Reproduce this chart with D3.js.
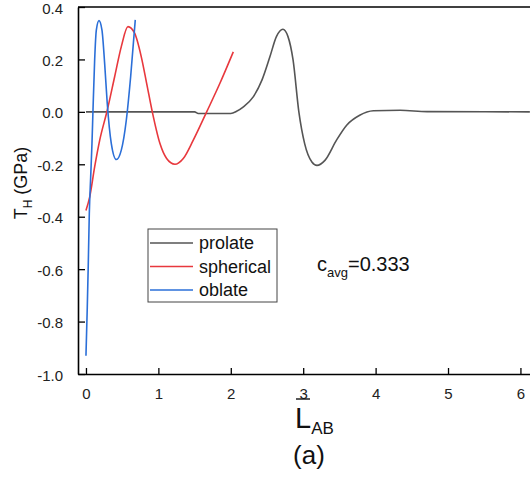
<!DOCTYPE html>
<html>
<head>
<meta charset="utf-8">
<script src="https://cdn.jsdelivr.net/npm/d3@7"></script>
<style>
  body { margin: 0; background: #fff; }
  svg { display: block; font-family: "Liberation Sans", Arial, sans-serif; }
</style>
</head>
<body>
<svg id="chart" width="530" height="478"></svg>
<script>
// values: [L_AB, T_H]
const prolateX = [0, 1.0, 1.5, 1.55, 2.0, 2.08, 2.17, 2.31, 2.43, 2.54, 2.63, 2.72, 2.79, 2.86, 2.94, 3.02, 3.12, 3.19, 3.30, 3.46, 3.60, 3.78, 3.97, 4.34, 4.71, 6.13];
const prolateY = [0, 0, 0, -0.006, -0.006, 0.002, 0.018, 0.057, 0.121, 0.21, 0.287, 0.315, 0.287, 0.198, 0, -0.121, -0.191, -0.204, -0.185, -0.108, -0.051, -0.013, 0.004, 0.006, 0.001, 0];

const sphericalX = [0, 0.051, 0.12, 0.19, 0.294, 0.396, 0.488, 0.58, 0.672, 0.764, 0.838, 0.916, 1.022, 1.114, 1.229, 1.344, 1.482, 1.667, 1.85, 2.035];
const sphericalY = [-0.376, -0.325, -0.21, -0.108, 0.006, 0.134, 0.249, 0.325, 0.30, 0.21, 0.109, 0, -0.121, -0.178, -0.2, -0.178, -0.108, 0, 0.109, 0.229];

const oblateX = [0, 0.018, 0.032, 0.046, 0.065, 0.083, 0.097, 0.12, 0.143, 0.18, 0.221, 0.258, 0.294, 0.35, 0.419, 0.488, 0.557, 0.617, 0.681];
const oblateY = [-0.93, -0.746, -0.58, -0.389, -0.249, -0.121, 0.006, 0.198, 0.312, 0.348, 0.312, 0.185, 0.032, -0.121, -0.182, -0.146, -0.032, 0.134, 0.351];

const seriesNames = ["prolate", "spherical", "oblate"];
const seriesColors = ["#555555", "#e8383d", "#2b6fd8"];

const xTicks = [0, 1, 2, 3, 4, 5, 6];
const yTicks = [-1.0, -0.8, -0.6, -0.4, -0.2, 0.0, 0.2, 0.4];

const svg = d3.select("#chart");

const pLeft = 78, pRight = 536, pTop = 7, pBottom = 374;

const x = d3.scaleLinear().domain([-0.11, 6.215]).range([pLeft, pRight]);
const y = d3.scaleLinear().domain([-1.0, 0.4]).range([pBottom, pTop]);

const fmt = d => d3.format(".1f")(d).replace("\u2212", "-");

// axes (ticks pointing inward)
const xAxis = svg.append("g")
    .attr("transform", `translate(0,${pBottom})`)
    .call(d3.axisBottom(x).tickValues(xTicks).tickSizeInner(-6).tickSizeOuter(0).tickPadding(14).tickFormat(d3.format("d")));

const yAxis = svg.append("g")
    .attr("transform", `translate(${pLeft},0)`)
    .call(d3.axisLeft(y).tickValues(yTicks).tickSizeInner(-7).tickSizeOuter(0).tickPadding(15).tickFormat(fmt));

[xAxis, yAxis].forEach(function(a) {
    a.select(".domain").attr("stroke", "#000").attr("stroke-width", 1.6);
    a.selectAll(".tick line").attr("stroke", "#000").attr("stroke-width", 1.3);
    a.selectAll(".tick text").attr("fill", "#222").style("font-size", "15px").style("font-family", "Liberation Sans, Arial, sans-serif");
});
yAxis.selectAll(".tick text").attr("dy", "0.4em");

// top frame line
svg.append("line")
    .attr("x1", pLeft).attr("x2", pRight)
    .attr("y1", pTop).attr("y2", pTop)
    .attr("stroke", "#000").attr("stroke-width", 1.6);

// curves
svg.append("clipPath").attr("id", "plotclip")
    .append("rect").attr("x", pLeft).attr("y", pTop).attr("width", pRight - pLeft).attr("height", pBottom - pTop);

const line = d3.line()
    .curve(d3.curveMonotoneX)
    .x(d => x(d[0]))
    .y(d => y(d[1]));

const series = [
    d3.zip(prolateX, prolateY),
    d3.zip(sphericalX, sphericalY),
    d3.zip(oblateX, oblateY)
];

const plot = svg.append("g").attr("clip-path", "url(#plotclip)");
series.forEach(function(s, i) {
    plot.append("path")
        .attr("d", line(s))
        .attr("fill", "none")
        .attr("stroke", seriesColors[i])
        .attr("stroke-width", 1.6);
});

// legend
const legend = svg.append("g");
legend.append("rect")
    .attr("x", 148).attr("y", 229).attr("width", 129).attr("height", 73)
    .attr("fill", "#fff").attr("stroke", "#444").attr("stroke-width", 1);

seriesNames.forEach(function(name, i) {
    const ly = 243 + i * 23.5;
    legend.append("line")
        .attr("x1", 150).attr("x2", 193)
        .attr("y1", ly).attr("y2", ly)
        .attr("stroke", seriesColors[i]).attr("stroke-width", 1.6);
    legend.append("text")
        .attr("x", 199).attr("y", ly + 6)
        .attr("fill", "#111")
        .style("font-size", "18px")
        .text(name);
});

// annotation
const ann = svg.append("text").attr("x", 317).attr("y", 271).attr("fill", "#111").style("font-size", "20px");
ann.append("tspan").text("c");
ann.append("tspan").attr("dy", 6).style("font-size", "13px").text("avg");
ann.append("tspan").attr("dy", -6).text("=0.333");

// y label
const yl = svg.append("text")
    .attr("transform", "translate(27,183) rotate(-90)")
    .attr("text-anchor", "middle")
    .attr("fill", "#111")
    .style("font-size", "18px");
yl.append("tspan").text("T");
yl.append("tspan").attr("dy", 5).style("font-size", "12px").text("H");
yl.append("tspan").attr("dy", -5).text(" (GPa)");

// x label
const xl = svg.append("text").attr("x", 295).attr("y", 428).attr("fill", "#111").style("font-size", "29px");
xl.append("tspan").text("L");
xl.append("tspan").attr("dy", 6).style("font-size", "17px").text("AB");
svg.append("line")
    .attr("x1", 296).attr("x2", 310)
    .attr("y1", 399).attr("y2", 399)
    .attr("stroke", "#111").attr("stroke-width", 1.4);

svg.append("text")
    .attr("x", 309).attr("y", 464)
    .attr("text-anchor", "middle")
    .attr("fill", "#111")
    .style("font-size", "26px")
    .text("(a)");
</script>
</body>
</html>
